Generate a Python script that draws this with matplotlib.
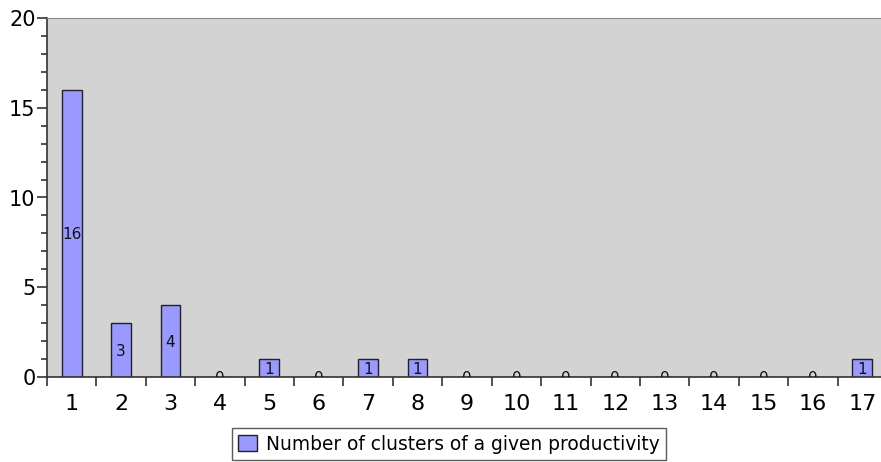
import matplotlib
matplotlib.use("Agg")
import matplotlib.pyplot as plt
from matplotlib.ticker import FixedLocator, MultipleLocator

categories = list(range(1, 18))
values = [16, 3, 4, 0, 1, 0, 1, 1, 0, 0, 0, 0, 0, 0, 0, 0, 1]
series_name = "Number of clusters of a given productivity"

W, H = 881, 462
PT = 72 / 100  # points per pixel at dpi 100
fig = plt.figure(figsize=(W / 100, H / 100), dpi=100)
ax = fig.add_axes([47 / W, (H - 377) / H, 840 / W, (377 - 18) / H])
ax.set_facecolor("#d3d3d3")

bars = ax.bar(categories, values, width=0.4, color="#9999ff", edgecolor="#222222",
              linewidth=1.0, label=series_name, zorder=2)
for x, v in zip(categories, values):
    ax.text(x, v / 2 - 0.08, str(v), ha="center", va="center", fontsize=11,
            color="#111111", clip_on=True, zorder=3)

ax.set_xlim(0.5, 17.5)
ax.set_ylim(0, 20)

ax.xaxis.set_major_locator(FixedLocator(categories))
ax.set_xticklabels([str(c) for c in categories], fontsize=16)
ax.xaxis.set_minor_locator(FixedLocator([c - 0.5 for c in categories]))
ax.tick_params(axis="x", which="major", length=0, pad=12)
ax.tick_params(axis="x", which="minor", length=9 * PT, width=1.2, color="#333333", direction="out")

ax.yaxis.set_major_locator(MultipleLocator(5))
ax.yaxis.set_minor_locator(MultipleLocator(1))
ax.tick_params(axis="y", which="major", length=10 * PT, width=1.2, color="#333333", labelsize=15, pad=1)
ax.tick_params(axis="y", which="minor", length=6 * PT, width=1.2, color="#333333")

ax.spines["right"].set_visible(False)
ax.spines["top"].set_color("#888888")
ax.spines["left"].set_color("#333333")
ax.spines["bottom"].set_color("#333333")
ax.spines["left"].set_linewidth(1.2)
ax.spines["bottom"].set_linewidth(1.2)

leg = fig.legend(handles=[bars], labels=[series_name], loc="center",
                 bbox_to_anchor=(449 / W, 1 - 444 / H), fontsize=13.4,
                 frameon=True, fancybox=False, edgecolor="#333333",
                 handlelength=1.0, handleheight=1.0, borderpad=0.35,
                 handletextpad=0.5)
leg.get_frame().set_linewidth(1.0)

fig.savefig("out.png", dpi=100)
